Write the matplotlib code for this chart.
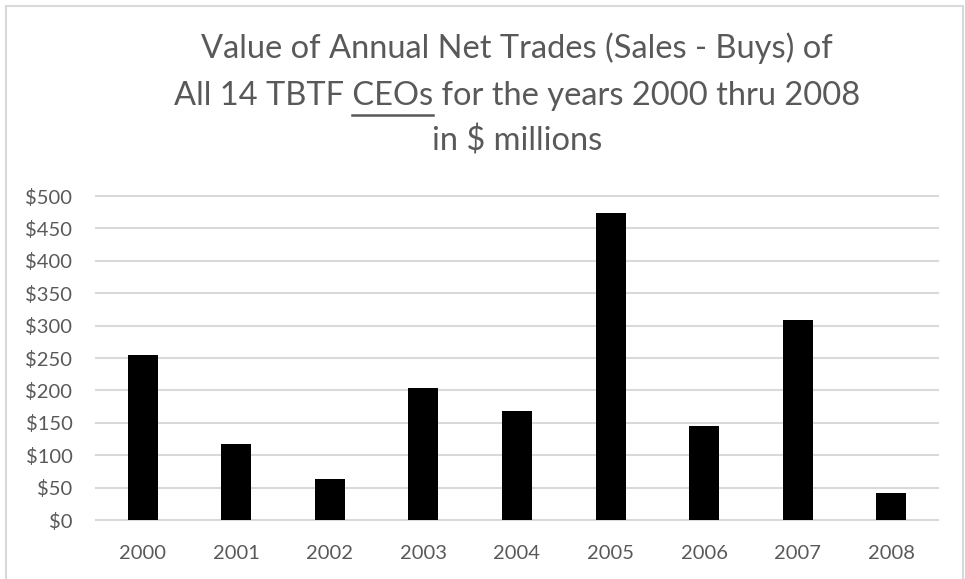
import matplotlib.pyplot as plt
from matplotlib.patches import Rectangle
from matplotlib.lines import Line2D

years = ["2000", "2001", "2002", "2003", "2004", "2005", "2006", "2007", "2008"]
net_trades = [255, 118, 64, 203, 168, 474, 145, 308, 41]
y_ticks = [0, 50, 100, 150, 200, 250, 300, 350, 400, 450, 500]
title_lines = [
    "Value of Annual Net Trades (Sales - Buys) of",
    "All 14 TBTF CEOs for the years 2000 thru 2008",
    "in $ millions",
]
underlined_word = "CEOs"

W, H = 965, 579
text_color = "#595959"
grid_color = "#d9d9d9"
font = "Lato"

fig = plt.figure(figsize=(W / 100, H / 100), dpi=100)
fig.patch.set_facecolor("white")

# plot area in pixels: left, top, right, bottom
left, top, right, bottom = 96, 196, 938, 520
ax = fig.add_axes([left / W, 1 - bottom / H, (right - left) / W, (bottom - top) / H])

x = list(range(len(years)))
ax.bar(x, net_trades, width=0.32, color="black", zorder=3)
ax.set_xlim(-0.5, len(years) - 0.5)
ax.set_ylim(0, 500)
ax.set_xticks(x)
ax.set_xticklabels(years, family=font)
ax.set_yticks(y_ticks)
ax.set_yticklabels([f"${v}" for v in y_ticks], family=font)
ax.grid(axis="y", color=grid_color, linewidth=1.5)
ax.set_axisbelow(True)
for line in ax.get_ygridlines():
    line.set_clip_on(False)
for spine in ax.spines.values():
    spine.set_visible(False)
ax.tick_params(axis="both", length=0, labelsize=14.5, labelcolor=text_color)
ax.tick_params(axis="x", pad=18)
ax.tick_params(axis="y", pad=17)

# chart border
fig.add_artist(Rectangle((5.5 / W, -0.05), (963 - 5.5) / W, 1.05 - 5.5 / H,
                         transform=fig.transFigure, fill=False,
                         edgecolor=grid_color, linewidth=1.5))

# three-line title centred over the plot area
cx = (left + right) / 2 / W
baselines = [58, 105, 150]
title_kw = dict(family=font, fontsize=23.5, color=text_color, ha="center", va="baseline")
title_texts = [fig.text(cx, 1 - b / H, s, **title_kw) for s, b in zip(title_lines, baselines)]

# underline one word of the second line
fig.canvas.draw()
renderer = fig.canvas.get_renderer()


def text_width(s):
    tmp = fig.text(0, 0, s, **title_kw)
    w = tmp.get_window_extent(renderer).width
    tmp.remove()
    return w


line2 = title_lines[1]
full_w = title_texts[1].get_window_extent(renderer).width
prefix = line2[: line2.index(underlined_word)]
pre_w = text_width(prefix + "x") - text_width("x")
word_w = text_width(underlined_word)
x0 = cx * W - full_w / 2 + pre_w
uy = 1 - 115 / H
fig.add_artist(Line2D([x0 / W, (x0 + word_w) / W], [uy, uy],
                      transform=fig.transFigure, color=text_color, linewidth=1.8))

fig.savefig("out.png", dpi=100)
